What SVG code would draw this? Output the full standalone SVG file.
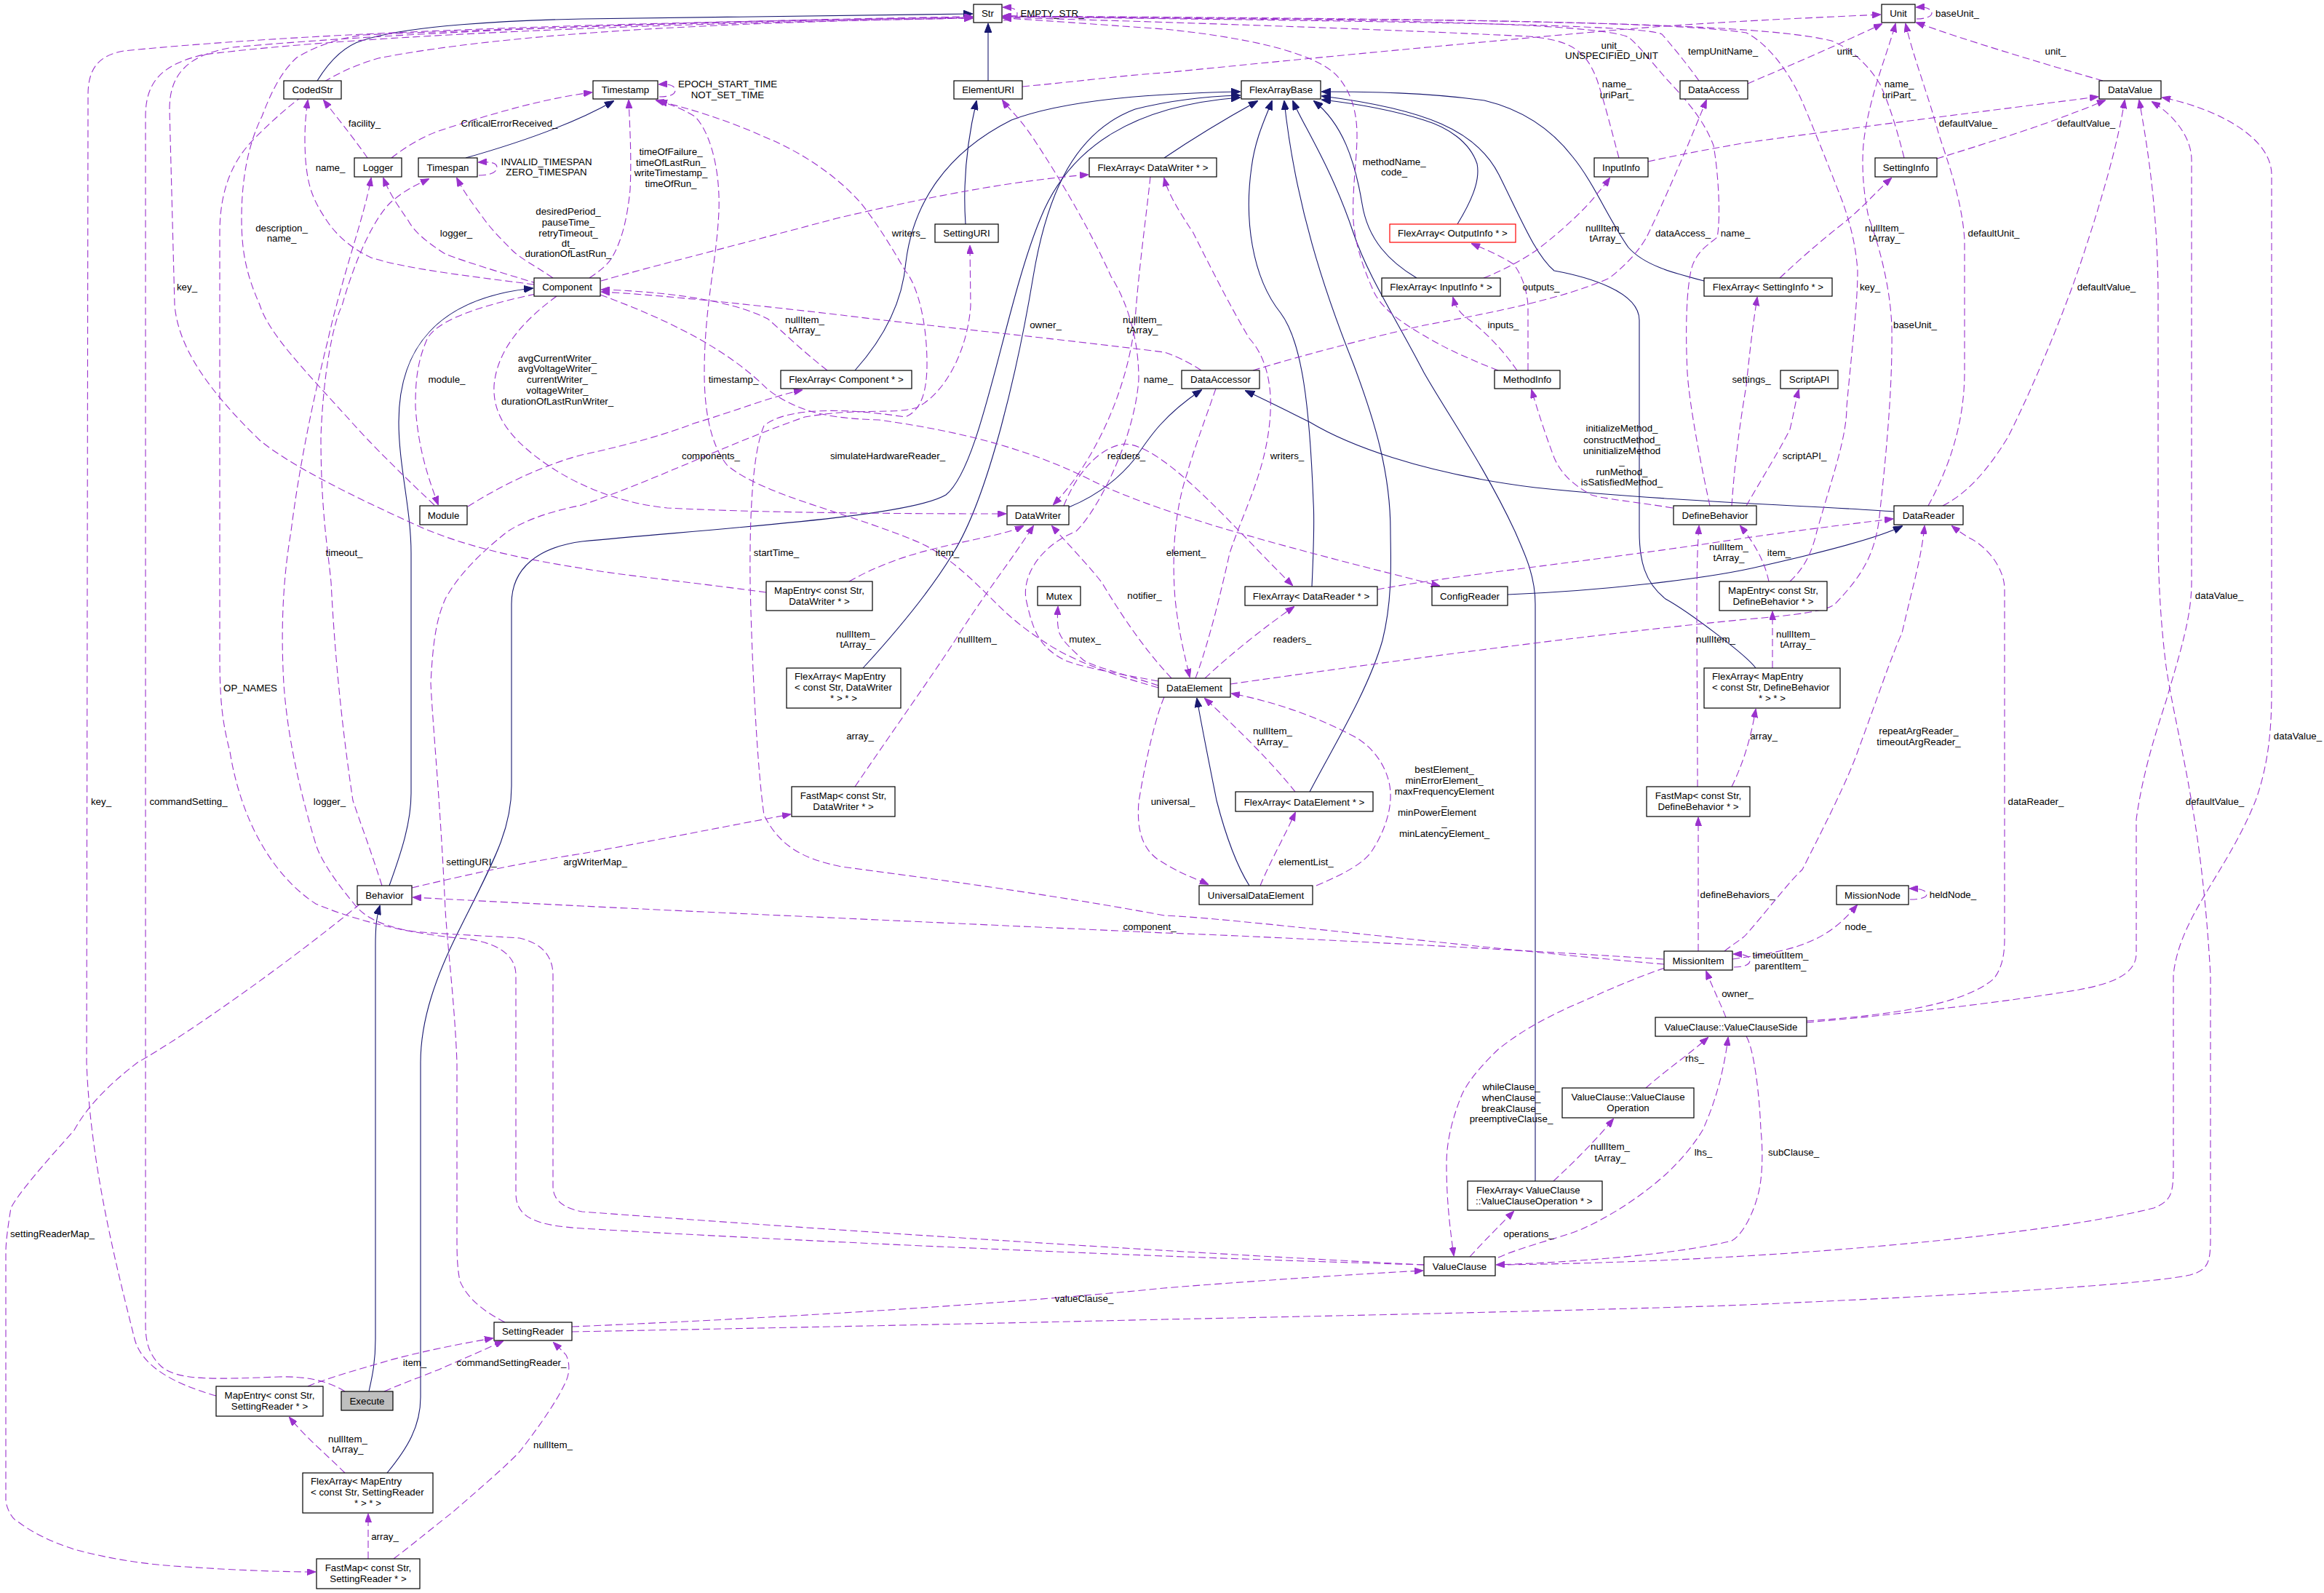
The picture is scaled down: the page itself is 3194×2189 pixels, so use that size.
<svg xmlns="http://www.w3.org/2000/svg" width="3194" height="2189" viewBox="0 0 3194 2189">
<defs>
<marker id="ap" markerWidth="12" markerHeight="9" refX="11" refY="4.5" orient="auto" markerUnits="userSpaceOnUse"><path d="M0,0 L12,4.5 L0,9 z" fill="#9a32cd" stroke="#9a32cd"/></marker>
<marker id="an" markerWidth="13" markerHeight="10" refX="12" refY="5" orient="auto" markerUnits="userSpaceOnUse"><path d="M0,0 L13,5 L0,10 z" fill="#191970" stroke="#191970"/></marker>
<style>
.n rect{fill:#fff;stroke:#000;stroke-width:1.2}
.n rect.red{stroke:#ff0000}
.n rect.cur{fill:#bfbfbf}
text{font-family:"Liberation Sans",Arial,sans-serif;font-size:13.3px;fill:#000}
.n text{text-anchor:middle}
.n text.l{text-anchor:start}
.lb text{text-anchor:middle}
.u{fill:none;stroke:#9a32cd;stroke-width:1.1;stroke-dasharray:10,5;marker-end:url(#ap)}
.i{fill:none;stroke:#191970;stroke-width:1.1;marker-end:url(#an)}
</style>
</defs>
<rect width="3194" height="2189" fill="#fff"/>
<g id="edges">
<!-- inheritance -->
<path class="i" d="M436,111 C455,80 475,62 500,55 C560,35 700,28 800,26 C1000,22 1200,20 1336,19"/>
<path class="i" d="M1358,111 L1358,33"/>
<path class="i" d="M1327,308 C1323,250 1330,190 1342,139"/>
<path class="i" d="M640,217 C700,200 780,175 843,139"/>
<path class="i" d="M535,1217 C552,1170 565,1130 565,1090 L565,760 C565,700 548,640 548,580 C548,480 600,410 732,396"/>
<path class="i" d="M507,1912 C512,1890 516,1870 516,1840 L516,1300 C516,1270 518,1258 522,1245"/>
<path class="i" d="M1175,509 C1210,470 1240,420 1245,360 C1255,280 1300,210 1390,165 C1470,135 1600,128 1704,126"/>
<path class="i" d="M1600,217 C1640,190 1690,160 1728,139"/>
<path class="i" d="M1186,918 C1230,870 1280,810 1310,760 C1360,680 1400,500 1420,380 C1440,260 1480,180 1560,150 C1620,135 1670,132 1704,131"/>
<path class="i" d="M532,2024 C560,1990 578,1960 578,1920 L578,1460 C578,1400 600,1340 630,1280 C680,1180 703,1140 703,1080 L703,830 C703,780 740,752 800,744 C1000,725 1250,710 1300,680 C1350,640 1380,420 1430,300 C1470,200 1560,145 1704,134"/>
<path class="i" d="M1803,806 C1805,760 1807,720 1805,690 C1800,560 1790,470 1760,430 C1720,380 1710,300 1720,230 C1725,190 1740,160 1748,139"/>
<path class="i" d="M1800,1088 C1830,1030 1880,950 1900,880 C1915,820 1911,760 1911,730 C1911,650 1890,580 1860,500 C1820,400 1780,280 1765,139"/>
<path class="i" d="M2110,1623 L2110,830 C2110,790 2095,760 2082,730 C2040,640 1990,570 1957,512 C1920,440 1880,380 1860,320 C1830,230 1790,170 1777,139"/>
<path class="i" d="M1947,382 C1910,360 1880,330 1872,280 C1862,220 1845,170 1806,139"/>
<path class="i" d="M2003,308 C2020,280 2035,250 2030,225 C2020,195 1990,175 1957,165 C1910,150 1860,142 1817,137"/>
<path class="i" d="M2342,386 C2300,375 2260,365 2238,340 C2210,300 2190,250 2161,215 C2130,175 2090,150 2040,138 C1960,127 1880,126 1817,126"/>
<path class="i" d="M2413,918 C2400,900 2320,840 2289,823 C2260,800 2253,770 2253,730 L2253,440 C2253,400 2180,380 2136,372 C2110,350 2090,300 2060,240 C2030,180 1960,150 1817,132"/>
<path class="i" d="M1469,697 C1510,680 1540,655 1560,630 C1580,600 1600,570 1651,536"/>
<path class="i" d="M2603,703 C2500,695 2300,690 2110,670 C1950,650 1850,610 1800,580 C1770,565 1740,550 1712,537"/>
<path class="i" d="M2072,817 C2200,812 2350,795 2420,778 C2500,760 2580,740 2614,723"/>
<path class="i" d="M1717,1217 C1700,1190 1685,1150 1672,1100 C1660,1040 1650,990 1645,960"/>
<!-- usage -->
<path class="u" d="M297,1918 C240,1902 195,1878 185,1840 C160,1740 124,1600 119,1460 L121,130 C121,95 135,76 170,70 C450,42 900,30 1336,24"/>
<path class="u" d="M474,1912 C450,1897 420,1891 383,1892 C300,1895 245,1898 222,1878 C205,1862 200,1845 200,1820 L200,160 C200,110 225,88 280,75 C500,48 900,32 1336,25"/>
<path class="u" d="M1053,814 C950,800 850,790 800,781 C700,765 640,750 582,726 C480,680 400,640 357,605 C290,540 245,480 240,419 L233,150 C233,100 260,75 320,65 C600,40 1000,28 1336,23"/>
<path class="u" d="M1957,1738 C1500,1725 1000,1700 800,1688 C740,1684 709,1675 709,1640 L709,1340 C709,1310 680,1295 640,1290 C580,1285 500,1270 434,1242 C370,1200 330,1120 316,1033 C305,990 302,960 302,900 L302,320 C302,260 320,220 350,190 C400,140 450,100 520,80 C700,45 1000,30 1336,25"/>
<path class="u" d="M1957,1738 C1500,1715 1000,1680 800,1665 C775,1660 760,1650 760,1630 L760,1340 C760,1310 740,1295 714,1289 C650,1285 580,1282 561,1279 C520,1270 500,1260 485,1240 C460,1210 440,1180 434,1160 C410,1080 395,1010 390,940 C386,870 388,800 400,730 C410,650 428,558 450,470 C470,380 500,300 510,245"/>
<path class="u" d="M597,694 C550,650 510,610 485,582 C420,510 370,460 357,419 C340,380 332,350 332,300 C332,250 340,200 360,160 C375,120 390,95 408,79 C440,60 470,52 500,48 C800,35 1100,28 1336,23"/>
<path class="u" d="M734,391 C650,380 560,370 510,354 C480,340 460,320 449,303 C430,275 423,256 420,220 C418,190 419,165 423,138"/>
<path class="u" d="M505,217 C490,195 470,170 445,138"/>
<path class="u" d="M538,217 C560,200 585,185 612,177 C680,155 750,135 813,127"/>
<path class="u" d="M740,390 C690,375 640,360 612,349 C590,335 570,320 561,303 C545,280 535,265 527,245"/>
<path class="u" d="M760,382 C735,365 715,355 704,344 C690,330 675,315 663,298 C650,280 638,265 628,245"/>
<path class="u" d="M658,241 C675,241 683,236 683,230 C683,224 676,222 658,223"/>
<path class="u" d="M810,382 C825,372 835,364 841,354 C855,330 862,300 866,261 C868,220 866,180 864,138"/>
<path class="u" d="M906,133 C920,133 928,130 928,124 C928,118 920,115 906,116"/>
<path class="u" d="M1592,945 C1520,925 1470,905 1440,885 C1400,860 1380,840 1360,820 C1320,780 1290,755 1250,740 C1150,700 1050,680 1000,640 C975,610 968,560 968,512 C968,420 985,360 988,290 C990,230 975,180 955,160 C935,148 920,143 902,138"/>
<path class="u" d="M2287,1325 C2000,1300 1700,1262 1600,1258 C1450,1230 1300,1210 1157,1191 C1100,1180 1070,1160 1050,1120 C1040,1050 1033,900 1031,800 C1030,700 1035,620 1050,585 C1080,560 1160,560 1244,573 C1265,565 1274,540 1274,500 C1274,440 1260,390 1244,372 C1220,330 1200,300 1183,279 C1140,230 1080,200 1055,190 C1000,165 950,150 906,139"/>
<path class="u" d="M736,404 C660,420 600,440 587,466 C572,500 571,530 571,559 C575,620 590,660 602,693"/>
<path class="u" d="M765,407 C720,440 683,480 679,530 C677,570 700,600 740,630 C780,660 840,690 917,698 C1050,705 1250,706 1382,706"/>
<path class="u" d="M643,696 C700,660 760,635 800,625 C870,610 920,595 953,582 C1010,565 1060,545 1102,536"/>
<path class="u" d="M1137,509 C1100,480 1075,455 1055,438 C1000,410 900,400 827,398"/>
<path class="u" d="M1651,509 C1630,495 1610,487 1600,484 C1450,465 1250,445 1157,433 C1000,415 900,405 827,401"/>
<path class="u" d="M826,386 C900,365 1000,340 1150,300 C1300,265 1400,248 1495,240"/>
<path class="u" d="M1581,243 C1575,300 1565,370 1560,440 C1550,540 1500,640 1448,693"/>
<path class="u" d="M1643,932 C1655,900 1670,850 1690,760 C1710,700 1738,651 1745,580 C1750,530 1740,490 1717,465 C1690,420 1660,360 1640,320 C1620,290 1605,265 1600,245"/>
<path class="u" d="M1656,932 C1690,900 1740,860 1778,834"/>
<path class="u" d="M1462,695 C1480,650 1510,615 1545,610 C1600,610 1700,730 1776,804"/>
<path class="u" d="M825,405 C920,440 1000,480 1055,535 C1100,570 1150,575 1208,577 C1300,590 1400,610 1500,660 C1600,710 1800,760 1978,805"/>
<path class="u" d="M1893,810 C2000,790 2200,770 2400,739 C2500,725 2560,718 2601,713"/>
<path class="u" d="M1691,940 C1900,910 2200,870 2400,851 C2470,845 2510,840 2522,830 C2560,790 2579,760 2584,700 C2595,600 2601,520 2600,450 C2598,390 2580,330 2568,298 C2560,260 2558,220 2562,190 C2570,130 2595,70 2605,33"/>
<path class="u" d="M1671,534 C1655,580 1640,620 1631,652 C1615,700 1610,760 1615,823 C1620,870 1628,900 1635,930"/>
<path class="u" d="M1167,799 C1200,780 1240,765 1280,755 C1340,740 1380,735 1406,723"/>
<path class="u" d="M1175,1081 C1230,1000 1280,930 1310,884 C1350,820 1390,770 1420,723"/>
<path class="u" d="M1610,932 C1580,900 1550,860 1514,800 C1490,770 1465,745 1446,723"/>
<path class="u" d="M1592,942 C1540,925 1500,915 1489,907 C1470,890 1460,880 1456,870 C1453,860 1453,850 1454,834"/>
<path class="u" d="M1592,936 C1530,925 1480,915 1463,907 C1430,890 1420,870 1410,823 C1405,790 1430,750 1479,730 C1510,700 1560,600 1565,521 C1565,450 1540,400 1527,380 C1500,320 1460,250 1420,190 C1400,160 1385,148 1378,138"/>
<path class="u" d="M1600,958 C1590,980 1575,1040 1565,1102 C1562,1140 1570,1165 1590,1180 C1620,1200 1645,1208 1660,1215"/>
<path class="u" d="M1732,1217 C1745,1185 1765,1150 1780,1117"/>
<path class="u" d="M1780,1088 C1750,1050 1700,1000 1656,960"/>
<path class="u" d="M1809,1217 C1850,1200 1875,1185 1885,1170 C1905,1140 1912,1110 1911,1090 C1910,1060 1890,1025 1855,1009 C1800,980 1740,962 1693,953"/>
<path class="u" d="M1722,509 C1800,485 1900,460 1957,447 C2050,430 2150,410 2212,382 C2240,360 2255,340 2263,326 C2290,270 2320,200 2345,138"/>
<path class="u" d="M2225,217 C2215,180 2205,140 2195,110 C2180,70 2160,55 2100,50 C1900,40 1600,30 1379,24"/>
<path class="u" d="M2039,382 C2070,370 2095,355 2110,345 C2150,315 2180,285 2192,270 C2200,260 2205,255 2212,245"/>
<path class="u" d="M2085,509 C2065,480 2040,455 2020,440 C2005,430 2000,420 1997,409"/>
<path class="u" d="M2100,509 C2100,480 2100,440 2100,419 C2098,395 2090,375 2080,363 C2060,350 2040,342 2023,335"/>
<path class="u" d="M2059,509 C2010,490 1980,475 1957,461 C1920,440 1895,420 1886,396 C1870,360 1862,330 1860,303 C1858,260 1865,220 1865,186 C1865,150 1855,125 1840,107 C1810,70 1700,50 1600,40 C1500,33 1420,27 1379,25"/>
<path class="u" d="M2299,698 C2250,690 2200,685 2187,680 C2160,665 2145,650 2136,629 C2125,600 2115,570 2105,536"/>
<path class="u" d="M2350,695 C2340,650 2322,560 2319,512 C2316,450 2318,400 2324,372 C2330,345 2350,335 2360,326 C2365,300 2362,240 2355,200 C2340,160 2310,130 2289,107 C2270,85 2250,60 2238,51 C2200,35 2000,30 1800,27 C1600,25 1450,24 1379,22"/>
<path class="u" d="M2335,111 C2320,90 2300,65 2284,47 C2260,35 2000,30 1379,23"/>
<path class="u" d="M2402,115 C2460,90 2530,60 2586,33"/>
<path class="u" d="M1405,119 C1500,110 1550,103 1600,100 C1800,80 2000,61 2212,42 C2350,30 2480,25 2584,20"/>
<path class="u" d="M2890,111 C2800,85 2700,55 2634,31"/>
<path class="u" d="M2634,26 C2648,26 2655,22 2655,18 C2655,13 2648,9 2634,10"/>
<path class="u" d="M1379,28 C1392,28 1398,24 1398,19 C1398,13 1392,10 1379,10"/>
<path class="u" d="M2617,217 C2605,170 2595,140 2584,116 C2565,85 2540,65 2517,56 C2450,40 2300,33 2000,28 C1700,25 1500,23 1379,22"/>
<path class="u" d="M2446,382 C2480,350 2510,325 2538,303 C2560,285 2580,262 2599,245"/>
<path class="u" d="M2662,218 C2720,200 2800,175 2850,155 C2870,148 2880,143 2893,138"/>
<path class="u" d="M2265,222 C2310,212 2360,203 2400,196 C2550,175 2750,150 2883,133"/>
<path class="u" d="M2460,799 C2480,780 2490,760 2497,730 C2520,650 2538,600 2538,559 C2545,480 2553,420 2553,372 C2550,330 2540,300 2533,279 C2510,220 2490,170 2477,140 C2460,100 2430,60 2400,45 C2300,30 2000,26 1379,22"/>
<path class="u" d="M2431,799 C2425,770 2410,745 2392,723"/>
<path class="u" d="M2436,918 L2436,841"/>
<path class="u" d="M2380,1081 C2395,1050 2405,1020 2413,975"/>
<path class="u" d="M2333,1081 C2333,1000 2332,900 2332,830 C2332,780 2333,750 2335,723"/>
<path class="u" d="M2334,1307 L2334,1124"/>
<path class="u" d="M2380,695 C2385,620 2395,560 2400,530 C2405,480 2410,440 2415,409"/>
<path class="u" d="M2400,695 C2420,660 2445,620 2460,590 C2465,570 2468,550 2472,536"/>
<path class="u" d="M2650,695 C2680,640 2700,580 2700,510 L2700,330 C2697,280 2680,230 2665,186 C2650,130 2630,80 2619,33"/>
<path class="u" d="M2670,695 C2700,680 2730,650 2760,600 C2800,520 2840,420 2860,360 C2890,270 2910,200 2920,138"/>
<path class="u" d="M2370,1307 C2385,1295 2395,1290 2400,1284 C2430,1250 2460,1210 2477,1195 C2510,1130 2540,1070 2553,1033 C2580,960 2600,900 2614,870 C2630,800 2640,770 2645,723"/>
<path class="u" d="M2483,1403 C2600,1395 2700,1380 2740,1345 C2752,1330 2755,1310 2755,1290 L2755,810 C2755,780 2730,750 2706,739 C2695,732 2688,727 2683,723"/>
<path class="u" d="M2483,1405 C2600,1395 2757,1377 2857,1360 C2900,1352 2936,1340 2936,1310 L2936,1126 C2945,1060 2965,1000 2977,963 C2995,900 3012,850 3012,800 L3012,220 C3012,190 2990,160 2958,140"/>
<path class="u" d="M2057,1738 C2400,1735 2800,1700 2960,1660 C2985,1650 2987,1640 2987,1600 L2987,1340 C2995,1260 3060,1200 3100,1100 C3118,1050 3122,1000 3122,950 L3122,240 C3122,190 3050,150 2972,134"/>
<path class="u" d="M786,1830 C1000,1826 1300,1820 1600,1813 C2000,1805 2300,1797 2400,1793 C2700,1780 2950,1765 3010,1752 C3035,1745 3038,1735 3038,1700 L3038,1340 C3030,1200 3015,1120 3012,1102 C3000,1030 2985,970 2977,916 C2970,860 2966,800 2966,730 L2966,400 C2965,300 2955,220 2940,138"/>
<path class="u" d="M786,1823 C1100,1810 1400,1790 1600,1770 C1750,1758 1880,1750 1955,1746"/>
<path class="u" d="M2288,1330 C2230,1350 2190,1370 2161,1382 C2110,1405 2080,1425 2059,1442 C2030,1470 2015,1490 2008,1507 C1995,1540 1988,1570 1988,1600 C1988,1650 1993,1690 1998,1725"/>
<path class="u" d="M2020,1727 C2040,1705 2060,1685 2080,1665"/>
<path class="u" d="M2135,1623 C2165,1595 2195,1565 2217,1538"/>
<path class="u" d="M2262,1495 C2290,1470 2320,1450 2347,1426"/>
<path class="u" d="M2059,1728 C2100,1710 2150,1700 2176,1688 C2220,1668 2260,1640 2289,1614 C2310,1595 2330,1570 2340,1553 C2355,1520 2368,1480 2375,1426"/>
<path class="u" d="M2400,1424 C2410,1440 2418,1500 2420,1553 C2423,1580 2423,1620 2415,1646 C2405,1680 2390,1700 2380,1705 C2300,1725 2150,1735 2057,1738"/>
<path class="u" d="M2372,1398 C2365,1380 2355,1360 2345,1335"/>
<path class="u" d="M2383,1329 C2398,1329 2405,1325 2405,1320 C2405,1314 2398,1311 2383,1311"/>
<path class="u" d="M2381,1318 C2420,1312 2450,1308 2477,1298 C2510,1286 2530,1270 2552,1244"/>
<path class="u" d="M2625,1236 C2640,1236 2648,1233 2648,1229 C2648,1224 2640,1221 2625,1221"/>
<path class="u" d="M2286,1318 C2000,1300 1700,1285 1600,1282 C1300,1268 1000,1255 800,1245 C700,1240 620,1236 568,1233"/>
<path class="u" d="M525,1217 C510,1170 495,1130 485,1100 C470,1000 460,900 455,800 C450,750 441,700 441,600 C445,500 460,440 470,420 C490,350 515,300 536,279 C555,262 570,255 589,246"/>
<path class="u" d="M566,1220 C650,1200 720,1185 800,1173 C900,1155 1000,1135 1086,1119"/>
<path class="u" d="M495,1242 C400,1320 260,1420 189,1460 C150,1490 120,1520 102,1553 C60,1600 25,1640 15,1660 C10,1690 8,1710 8,1720 L8,2064 C12,2080 18,2088 26,2092 C50,2110 80,2122 102,2129 C150,2142 200,2150 255,2153 C330,2158 390,2160 433,2160"/>
<path class="u" d="M528,1912 C560,1898 590,1888 612,1878 C640,1866 665,1855 691,1843"/>
<path class="u" d="M423,1905 C460,1890 500,1880 536,1869 C580,1857 630,1847 677,1839"/>
<path class="u" d="M474,2024 C450,2000 420,1975 398,1948"/>
<path class="u" d="M506,2142 L506,2081"/>
<path class="u" d="M541,2142 C570,2120 600,2095 622,2078 C660,2045 695,2015 714,1995 C745,1955 765,1925 776,1902 C785,1885 782,1870 778,1862 C772,1855 766,1850 761,1845"/>
<path class="u" d="M694,1817 C660,1800 640,1780 632,1760 C628,1740 628,1720 628,1700 L628,1460 C625,1380 615,1300 612,1250 C605,1100 595,1000 592,939 C595,880 600,850 612,823 C630,790 660,760 698,730 C730,710 770,700 800,694 C900,660 1000,610 1106,573 C1180,560 1230,570 1260,560 C1300,540 1330,480 1334,420 L1333,338"/>
</g>
<g id="labels" class="lb">
<text x="1446" y="23">EMPTY_STR_</text>
<text x="2690" y="23">baseUnit_</text>
<text x="2215" y="67">unit_</text><text x="2215" y="81">UNSPECIFIED_UNIT</text>
<text x="2368" y="75">tempUnitName_</text>
<text x="2539" y="75">unit_</text>
<text x="2825" y="75">unit_</text>
<text x="501" y="174">facility_</text>
<text x="700" y="174">CriticalErrorReceived_</text>
<text x="1000" y="120">EPOCH_START_TIME</text><text x="1000" y="135">NOT_SET_TIME</text>
<text x="2222" y="120">name_</text><text x="2222" y="135">uriPart_</text>
<text x="2610" y="120">name_</text><text x="2610" y="135">uriPart_</text>
<text x="2705" y="174">defaultValue_</text>
<text x="2867" y="174">defaultValue_</text>
<text x="922" y="213">timeOfFailure_</text><text x="922" y="228">timeOfLastRun_</text><text x="922" y="242">writeTimestamp_</text><text x="922" y="257">timeOfRun_</text>
<text x="751" y="227">INVALID_TIMESPAN</text><text x="751" y="241">ZERO_TIMESPAN</text>
<text x="454" y="235">name_</text>
<text x="1916" y="227">methodName_</text><text x="1916" y="241">code_</text>
<text x="781" y="295">desiredPeriod_</text><text x="781" y="310">pauseTime_</text><text x="781" y="325">retryTimeout_</text><text x="781" y="339">dt_</text><text x="781" y="353">durationOfLastRun_</text>
<text x="387" y="318">description_</text><text x="387" y="332">name_</text>
<text x="627" y="325">logger_</text>
<text x="1249" y="325">writers_</text>
<text x="2206" y="318">nullItem_</text><text x="2206" y="332">tArray_</text>
<text x="2313" y="325">dataAccess_</text>
<text x="2385" y="325">name_</text>
<text x="2590" y="318">nullItem_</text><text x="2590" y="332">tArray_</text>
<text x="2740" y="325">defaultUnit_</text>
<text x="257" y="399">key_</text>
<text x="2118" y="399">outputs_</text>
<text x="2570" y="399">key_</text>
<text x="2895" y="399">defaultValue_</text>
<text x="1106" y="444">nullItem_</text><text x="1106" y="458">tArray_</text>
<text x="1437" y="451">owner_</text>
<text x="1570" y="444">nullItem_</text><text x="1570" y="458">tArray_</text>
<text x="2066" y="451">inputs_</text>
<text x="2632" y="451">baseUnit_</text>
<text x="766" y="497">avgCurrentWriter_</text><text x="766" y="511">avgVoltageWriter_</text><text x="766" y="526">currentWriter_</text><text x="766" y="541">voltageWriter_</text><text x="766" y="556">durationOfLastRunWriter_</text>
<text x="614" y="526">module_</text>
<text x="1008" y="526">timestamp_</text>
<text x="1592" y="526">name_</text>
<text x="2407" y="526">settings_</text>
<text x="2229" y="593">initializeMethod_</text><text x="2229" y="609">constructMethod_</text><text x="2229" y="624">uninitializeMethod</text><text x="2229" y="638">_</text><text x="2229" y="653">runMethod_</text><text x="2229" y="667">isSatisfiedMethod_</text>
<text x="977" y="631">components_</text>
<text x="1220" y="631">simulateHardwareReader_</text>
<text x="1548" y="631">readers_</text>
<text x="1769" y="631">writers_</text>
<text x="2480" y="631">scriptAPI_</text>
<text x="473" y="764">timeout_</text>
<text x="1067" y="764">startTime_</text>
<text x="1302" y="764">item_</text>
<text x="1630" y="764">element_</text>
<text x="2376" y="756">nullItem_</text><text x="2376" y="771">tArray_</text>
<text x="2445" y="764">item_</text>
<text x="1573" y="823">notifier_</text>
<text x="3050" y="823">dataValue_</text>
<text x="1176" y="876">nullItem_</text><text x="1176" y="890">tArray_</text>
<text x="1343" y="883">nullItem_</text>
<text x="1491" y="883">mutex_</text>
<text x="1776" y="883">readers_</text>
<text x="2358" y="883">nullItem_</text>
<text x="2468" y="876">nullItem_</text><text x="2468" y="890">tArray_</text>
<text x="344" y="950">OP_NAMES</text>
<text x="1749" y="1009">nullItem_</text><text x="1749" y="1024">tArray_</text>
<text x="2637" y="1009">repeatArgReader_</text><text x="2637" y="1024">timeoutArgReader_</text>
<text x="1182" y="1016">array_</text>
<text x="2424" y="1016">array_</text>
<text x="3158" y="1016">dataValue_</text>
<text x="1985" y="1062">bestElement_</text><text x="1985" y="1077">minErrorElement_</text><text x="1985" y="1092">maxFrequencyElement</text><text x="1985" y="1106">_</text><text x="1975" y="1121">minPowerElement</text><text x="1985" y="1135">_</text><text x="1985" y="1150">minLatencyElement_</text>
<text x="139" y="1106">key_</text>
<text x="259" y="1106">commandSetting_</text>
<text x="453" y="1106">logger_</text>
<text x="1612" y="1106">universal_</text>
<text x="2798" y="1106">dataReader_</text>
<text x="3044" y="1106">defaultValue_</text>
<text x="648" y="1189">settingURI_</text>
<text x="818" y="1189">argWriterMap_</text>
<text x="1795" y="1189">elementList_</text>
<text x="2388" y="1234">defineBehaviors_</text>
<text x="2684" y="1234">heldNode_</text>
<text x="1580" y="1278">component_</text>
<text x="2554" y="1278">node_</text>
<text x="2447" y="1317">timeoutItem_</text><text x="2447" y="1332">parentItem_</text>
<text x="2388" y="1370">owner_</text>
<text x="2329" y="1459">rhs_</text>
<text x="2077" y="1498">whileClause_</text><text x="2077" y="1513">whenClause_</text><text x="2077" y="1528">breakClause_</text><text x="2077" y="1542">preemptiveClause_</text>
<text x="2213" y="1580">nullItem_</text><text x="2213" y="1596">tArray_</text>
<text x="2341" y="1588">lhs_</text>
<text x="2465" y="1588">subClause_</text>
<text x="72" y="1700">settingReaderMap_</text>
<text x="2101" y="1700">operations_</text>
<text x="1490" y="1789">valueClause_</text>
<text x="570" y="1877">item_</text>
<text x="703" y="1877">commandSettingReader_</text>
<text x="478" y="1982">nullItem_</text><text x="478" y="1996">tArray_</text>
<text x="760" y="1990">nullItem_</text>
<text x="529" y="2116">array_</text>
</g>
<g id="n_str" class="n"><rect x="1338" y="6" width="39" height="25"/><text x="1357.5" y="23">Str</text></g>
<g id="n_unit" class="n"><rect x="2586" y="6" width="46" height="25"/><text x="2609" y="23">Unit</text></g>
<g id="n_codedstr" class="n"><rect x="390" y="111" width="79" height="25"/><text x="429.5" y="128">CodedStr</text></g>
<g id="n_timestamp" class="n"><rect x="815" y="111" width="89" height="25"/><text x="859.5" y="128">Timestamp</text></g>
<g id="n_elementuri" class="n"><rect x="1311" y="111" width="94" height="25"/><text x="1358" y="128">ElementURI</text></g>
<g id="n_flexarraybase" class="n"><rect x="1706" y="111" width="109" height="25"/><text x="1760.5" y="128">FlexArrayBase</text></g>
<g id="n_dataaccess" class="n"><rect x="2309" y="111" width="93" height="25"/><text x="2355.5" y="128">DataAccess</text></g>
<g id="n_datavalue" class="n"><rect x="2885" y="111" width="85" height="25"/><text x="2927.5" y="128">DataValue</text></g>
<g id="n_logger" class="n"><rect x="487" y="217" width="65" height="26"/><text x="519.5" y="235">Logger</text></g>
<g id="n_timespan" class="n"><rect x="575" y="217" width="81" height="26"/><text x="615.5" y="235">Timespan</text></g>
<g id="n_fa_datawriter" class="n"><rect x="1497" y="217" width="175" height="26"/><text x="1584.5" y="235">FlexArray&lt; DataWriter * &gt;</text></g>
<g id="n_inputinfo" class="n"><rect x="2191" y="217" width="74" height="26"/><text x="2228" y="235">InputInfo</text></g>
<g id="n_settinginfo" class="n"><rect x="2577" y="217" width="85" height="26"/><text x="2619.5" y="235">SettingInfo</text></g>
<g id="n_settinguri" class="n"><rect x="1285" y="308" width="87" height="25"/><text x="1328.5" y="325">SettingURI</text></g>
<g id="n_fa_outputinfo" class="n"><rect class="red" x="1910" y="308" width="173" height="25"/><text x="1996.5" y="325">FlexArray&lt; OutputInfo * &gt;</text></g>
<g id="n_component" class="n"><rect x="734" y="382" width="91" height="25"/><text x="779.5" y="399">Component</text></g>
<g id="n_fa_inputinfo" class="n"><rect x="1899" y="382" width="163" height="25"/><text x="1980.5" y="399">FlexArray&lt; InputInfo * &gt;</text></g>
<g id="n_fa_settinginfo" class="n"><rect x="2342" y="382" width="176" height="25"/><text x="2430" y="399">FlexArray&lt; SettingInfo * &gt;</text></g>
<g id="n_fa_component" class="n"><rect x="1073" y="509" width="180" height="25"/><text x="1163" y="526">FlexArray&lt; Component * &gt;</text></g>
<g id="n_dataaccessor" class="n"><rect x="1624" y="509" width="107" height="25"/><text x="1677.5" y="526">DataAccessor</text></g>
<g id="n_methodinfo" class="n"><rect x="2054" y="509" width="90" height="25"/><text x="2099" y="526">MethodInfo</text></g>
<g id="n_scriptapi" class="n"><rect x="2447" y="509" width="79" height="25"/><text x="2486.5" y="526">ScriptAPI</text></g>
<g id="n_module" class="n"><rect x="577" y="695" width="65" height="26"/><text x="609.5" y="713">Module</text></g>
<g id="n_datawriter" class="n"><rect x="1384" y="695" width="85" height="26"/><text x="1426.5" y="713">DataWriter</text></g>
<g id="n_definebehavior" class="n"><rect x="2300" y="695" width="114" height="26"/><text x="2357" y="713">DefineBehavior</text></g>
<g id="n_datareader" class="n"><rect x="2603" y="695" width="95" height="26"/><text x="2650.5" y="713">DataReader</text></g>
<g id="n_me_datawriter" class="n"><rect x="1053" y="799" width="146" height="40"/><text x="1126" y="815.5">MapEntry&lt; const Str,</text><text x="1126" y="830.5">DataWriter * &gt;</text></g>
<g id="n_mutex" class="n"><rect x="1426" y="806" width="59" height="26"/><text x="1455.5" y="824">Mutex</text></g>
<g id="n_fa_datareader" class="n"><rect x="1711" y="806" width="182" height="26"/><text x="1802" y="824">FlexArray&lt; DataReader * &gt;</text></g>
<g id="n_configreader" class="n"><rect x="1968" y="806" width="104" height="26"/><text x="2020" y="824">ConfigReader</text></g>
<g id="n_me_definebehavior" class="n"><rect x="2363" y="799" width="148" height="40"/><text x="2437" y="815.5">MapEntry&lt; const Str,</text><text x="2437" y="830.5">DefineBehavior * &gt;</text></g>
<g id="n_fa_me_datawriter" class="n"><rect x="1081" y="918" width="157" height="55"/><text class="l" x="1092" y="934">FlexArray&lt; MapEntry</text><text class="l" x="1092" y="949">&lt; const Str, DataWriter</text><text x="1159.5" y="964"> * &gt; * &gt;</text></g>
<g id="n_dataelement" class="n"><rect x="1592" y="932" width="99" height="26"/><text x="1641.5" y="950">DataElement</text></g>
<g id="n_fa_me_definebehavior" class="n"><rect x="2342" y="918" width="187" height="55"/><text class="l" x="2353" y="934">FlexArray&lt; MapEntry</text><text class="l" x="2353" y="949">&lt; const Str, DefineBehavior</text><text x="2435.5" y="964"> * &gt; * &gt;</text></g>
<g id="n_fm_datawriter" class="n"><rect x="1088" y="1081" width="142" height="41"/><text x="1159" y="1097.5">FastMap&lt; const Str,</text><text x="1159" y="1112.5">DataWriter * &gt;</text></g>
<g id="n_fa_dataelement" class="n"><rect x="1698" y="1088" width="189" height="27"/><text x="1792.5" y="1106.5">FlexArray&lt; DataElement * &gt;</text></g>
<g id="n_fm_definebehavior" class="n"><rect x="2263" y="1081" width="142" height="41"/><text x="2334" y="1097.5">FastMap&lt; const Str,</text><text x="2334" y="1112.5">DefineBehavior * &gt;</text></g>
<g id="n_behavior" class="n"><rect x="491" y="1217" width="75" height="26"/><text x="528.5" y="1235">Behavior</text></g>
<g id="n_universaldataelement" class="n"><rect x="1648" y="1217" width="156" height="26"/><text x="1726" y="1235">UniversalDataElement</text></g>
<g id="n_missionnode" class="n"><rect x="2524" y="1217" width="99" height="26"/><text x="2573.5" y="1235">MissionNode</text></g>
<g id="n_missionitem" class="n"><rect x="2287" y="1307" width="94" height="26"/><text x="2334" y="1325">MissionItem</text></g>
<g id="n_valueclauseside" class="n"><rect x="2275" y="1398" width="208" height="26"/><text x="2379" y="1416">ValueClause::ValueClauseSide</text></g>
<g id="n_valueclauseoperation" class="n"><rect x="2147" y="1495" width="181" height="41"/><text x="2237.5" y="1511.5">ValueClause::ValueClause</text><text x="2237.5" y="1526.5">Operation</text></g>
<g id="n_fa_valueclauseoperation" class="n"><rect x="2017" y="1623" width="185" height="40"/><text class="l" x="2029" y="1639.5">FlexArray&lt; ValueClause</text><text class="l" x="2028" y="1654.5">::ValueClauseOperation * &gt;</text></g>
<g id="n_valueclause" class="n"><rect x="1957" y="1727" width="98" height="26"/><text x="2006" y="1745">ValueClause</text></g>
<g id="n_settingreader" class="n"><rect x="679" y="1817" width="107" height="25"/><text x="732.5" y="1834">SettingReader</text></g>
<g id="n_me_settingreader" class="n"><rect x="297" y="1905" width="147" height="41"/><text x="370.5" y="1921.5">MapEntry&lt; const Str,</text><text x="370.5" y="1936.5">SettingReader * &gt;</text></g>
<g id="n_execute" class="n"><rect class="cur" x="469" y="1912" width="71" height="26"/><text x="504.5" y="1930">Execute</text></g>
<g id="n_fa_me_settingreader" class="n"><rect x="416" y="2024" width="179" height="55"/><text class="l" x="427" y="2040">FlexArray&lt; MapEntry</text><text class="l" x="427" y="2055">&lt; const Str, SettingReader</text><text x="505.5" y="2070"> * &gt; * &gt;</text></g>
<g id="n_fm_settingreader" class="n"><rect x="435" y="2142" width="142" height="41"/><text x="506" y="2158.5">FastMap&lt; const Str,</text><text x="506" y="2173.5">SettingReader * &gt;</text></g>
</svg>
